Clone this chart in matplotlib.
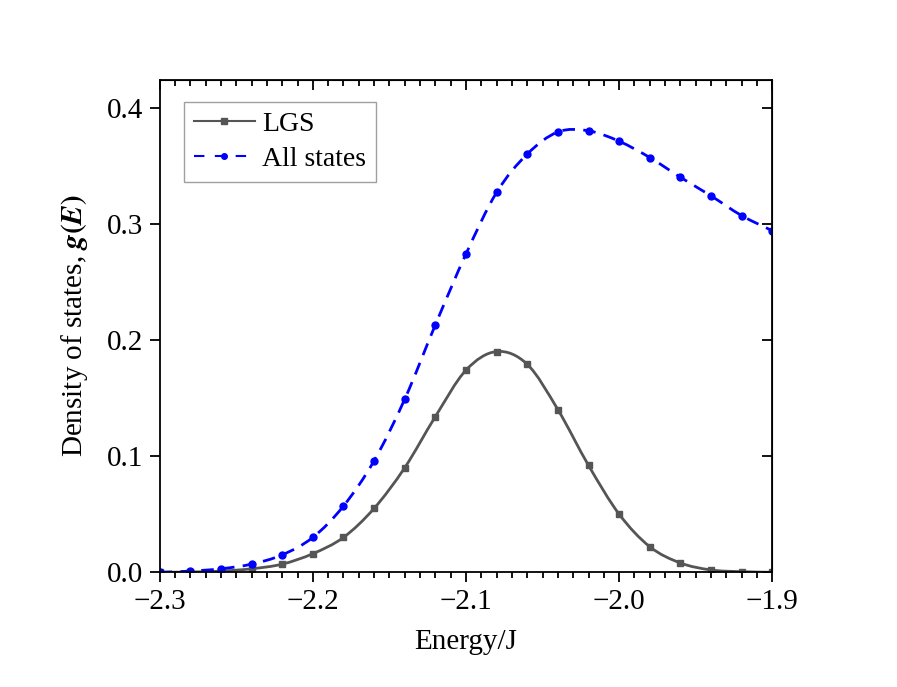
import numpy as np
import matplotlib
matplotlib.use("Agg")
import matplotlib.pyplot as plt
from matplotlib.path import Path
from matplotlib.patches import PathPatch
from matplotlib.lines import Line2D
from matplotlib.ticker import MultipleLocator

plt.rcParams['font.family'] = 'Liberation Serif'
plt.rcParams['mathtext.fontset'] = 'stix'
plt.rcParams['font.size'] = 21

# data
energy = [-2.30, -2.28, -2.26, -2.24, -2.22, -2.20, -2.18, -2.16, -2.14, -2.12, -2.10,
          -2.08, -2.06, -2.04, -2.02, -2.00, -1.98, -1.96, -1.94, -1.92, -1.90]
lgs = [0.0, 0.0002, 0.001, 0.003, 0.007, 0.016, 0.030, 0.055, 0.090, 0.134, 0.174,
       0.190, 0.179, 0.140, 0.092, 0.050, 0.022, 0.008, 0.002, 0.0005, 0.0]
all_states = [0.0, 0.001, 0.003, 0.007, 0.015, 0.030, 0.057, 0.096, 0.149, 0.213, 0.274,
              0.327, 0.360, 0.379, 0.380, 0.371, 0.357, 0.340, 0.324, 0.307, 0.294]


def smooth_path(x, y):
    # Catmull-Rom style bezier through the data points
    x = np.asarray(x, float)
    y = np.asarray(y, float)
    verts = [(x[0], y[0])]
    codes = [Path.MOVETO]
    n = len(x)
    for i in range(n - 1):
        x0, y0 = (x[i - 1], y[i - 1]) if i > 0 else (x[i], y[i])
        x3, y3 = (x[i + 2], y[i + 2]) if i + 2 < n else (x[i + 1], y[i + 1])
        c1 = (x[i] + (x[i + 1] - x0) / 6, y[i] + (y[i + 1] - y0) / 6)
        c2 = (x[i + 1] - (x3 - x[i]) / 6, y[i + 1] - (y3 - y[i]) / 6)
        verts += [c1, c2, (x[i + 1], y[i + 1])]
        codes += [Path.CURVE4] * 3
    return Path(verts, codes)


fig = plt.figure(figsize=(8.97, 6.87), dpi=100)
ax = fig.add_axes([0.178, 0.167, 0.683, 0.717])

gray = '#555555'
blue = '#0000ff'
dash = (0, (4.5, 3))

ax.add_patch(PathPatch(smooth_path(energy, lgs), fill=False, edgecolor=gray, lw=2))
ax.plot(energy, lgs, ls='none', marker='s', ms=4.5, color=gray)

ax.add_patch(PathPatch(smooth_path(energy, all_states), fill=False, edgecolor=blue, lw=2,
                       linestyle=dash))
ax.plot(energy, all_states, ls='none', marker='o', ms=5, color=blue)

ax.set_xlim(-2.3, -1.9)
ax.set_ylim(0, 0.424)
ax.xaxis.set_minor_locator(MultipleLocator(0.01))
ax.set_xticks([-2.3, -2.2, -2.1, -2.0, -1.9])
ax.set_xticklabels(['\u22122.3', '\u22122.2', '\u22122.1', '\u22122.0', '\u22121.9'])
ax.set_yticks([0, 0.1, 0.2, 0.3, 0.4])
ax.set_yticklabels(['0.0', '0.1', '0.2', '0.3', '0.4'])
ax.tick_params(which='major', direction='out', length=7, width=1.3, pad=5)
ax.tick_params(which='minor', direction='out', length=4, width=1.3)
for s in ax.spines.values():
    s.set_linewidth(1.3)

top = ax.secondary_xaxis('top')
top.xaxis.set_major_locator(MultipleLocator(0.1))
top.xaxis.set_minor_locator(MultipleLocator(0.01))
top.tick_params(which='major', direction='in', length=7, width=1.3, labeltop=False)
top.tick_params(which='minor', direction='in', length=4, width=1.3)
right = ax.secondary_yaxis('right')
right.yaxis.set_major_locator(MultipleLocator(0.1))
right.tick_params(direction='in', length=7, width=1.3, labelright=False)

ax.set_xlabel('Energy/J', labelpad=10)
ax.set_ylabel('Density of states, $\\boldsymbol{g(E)}$', labelpad=12)

handles = [Line2D([], [], color=gray, lw=1.5, marker='s', ms=4),
           Line2D([], [], color=blue, lw=1.5, ls=(0, (5, 5)), marker='o', ms=4)]
leg = ax.legend(handles, ['LGS', 'All states'], prop={'size': 20}, loc='upper left',
                fancybox=False, edgecolor='#a0a0a0', framealpha=1,
                bbox_to_anchor=(0.04, 0.955), borderaxespad=0, handlelength=2.2,
                handletextpad=0.25, borderpad=0.35, labelspacing=0.35)
leg.get_frame().set_linewidth(1.0)

fig.savefig('out.png', dpi=100)
